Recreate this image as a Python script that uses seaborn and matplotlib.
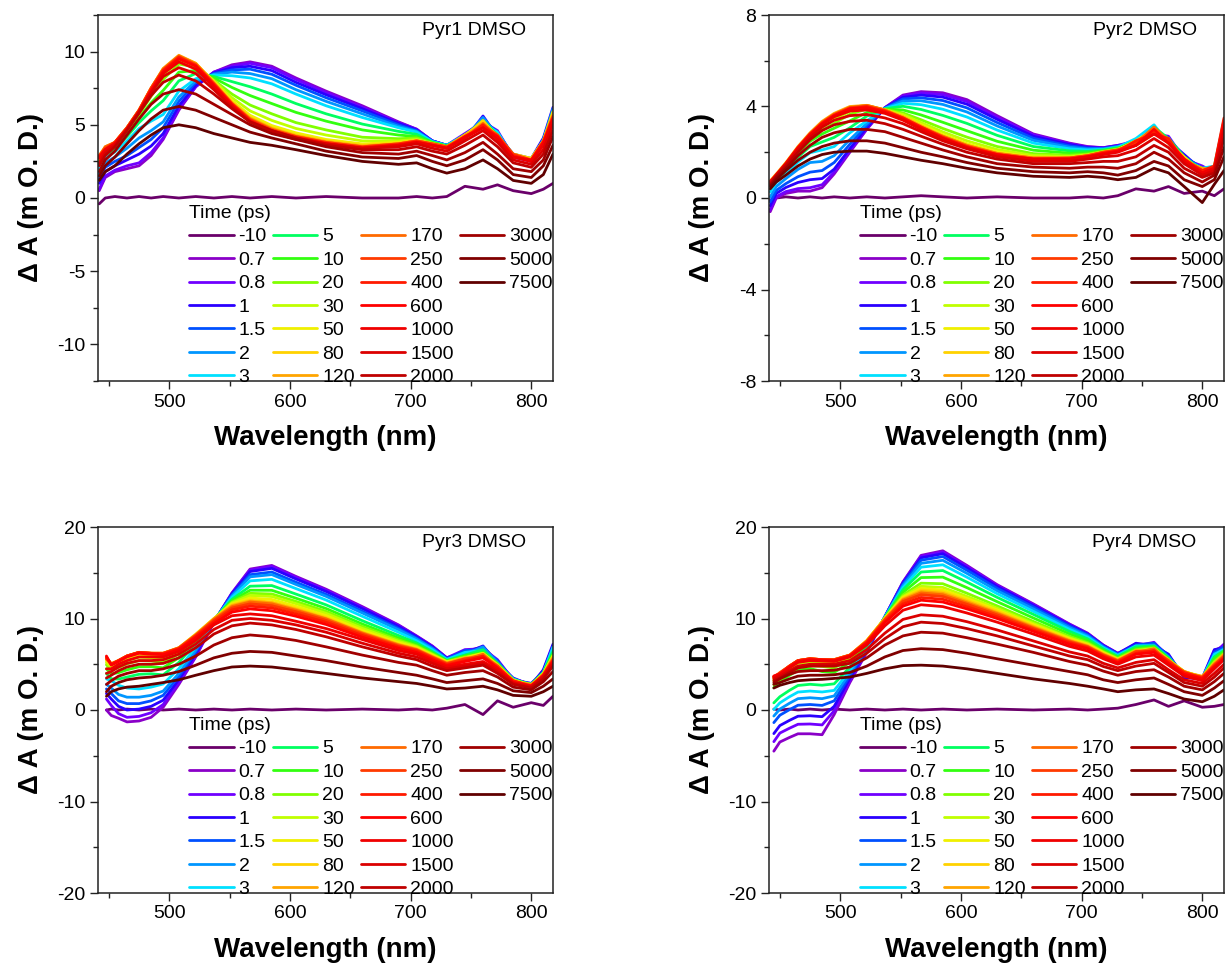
import matplotlib
matplotlib.use("Agg")
import matplotlib.pyplot as plt
from matplotlib.lines import Line2D
from matplotlib.ticker import MultipleLocator
import pandas as pd
import seaborn as sns

TIMES = ["-10", "0.7", "0.8", "1", "1.5", "2", "3", "5", "10", "20", "30", "50",
         "80", "120", "170", "250", "400", "600", "1000", "1500", "2000", "3000", "5000", "7500"]
COLORS = ["#6a006a", "#8a00c8", "#7000ff", "#2a00ff", "#0050ff", "#0096ff", "#00e0ff",
          "#00ff60", "#33ff10", "#80ff00", "#c0ff00", "#f0f000", "#ffd200", "#ffa500",
          "#ff6a00", "#ff3a00", "#ff1a00", "#ff0000", "#f00000", "#dc0000", "#c00000",
          "#a00000", "#800000", "#600000"]

WL_12 = [442, 447, 455, 465, 475, 485, 495, 508, 522, 537, 552, 567, 585, 605, 630, 660, 690, 705, 718, 730, 745, 760, 772, 785, 800, 810, 818]
WL_3 = [448, 452, 458, 465, 475, 485, 495, 508, 522, 537, 552, 567, 585, 605, 630, 660, 690, 705, 718, 730, 745, 760, 772, 785, 800, 810, 818]
WL_4 = [445, 450, 458, 465, 475, 485, 495, 508, 522, 537, 552, 567, 585, 605, 630, 660, 690, 705, 718, 730, 745, 760, 772, 785, 800, 810, 818]

PYR1 = [
    [-0.4, 0.0, 0.1, 0.0, 0.1, 0.0, 0.1, 0.0, 0.1, 0.0, 0.1, 0.0, 0.1, 0.0, 0.1, 0.0, 0.0, 0.1, 0.0, 0.1, 0.8, 0.6, 0.9, 0.5, 0.3, 0.6, 1.0],
    [0.5, 1.4, 1.8, 2.0, 2.2, 2.9, 4.0, 6.0, 7.6, 8.6, 9.1, 9.3, 9.0, 8.2, 7.3, 6.3, 5.2, 4.7, 3.9, 3.6, 4.2, 5.4, 4.4, 2.9, 2.6, 4.0, 6.0],
    [0.6, 1.5, 1.9, 2.2, 2.4, 3.1, 4.1, 6.1, 7.6, 8.6, 9.0, 9.2, 8.9, 8.1, 7.2, 6.2, 5.15, 4.7, 3.9, 3.6, 4.4, 5.2, 4.6, 2.8, 2.5, 3.8, 5.8],
    [1.0, 1.8, 2.2, 2.6, 3.0, 3.55, 4.4, 6.3, 7.7, 8.55, 8.9, 9.0, 8.7, 7.9, 7.05, 6.1, 5.1, 4.65, 3.9, 3.6, 4.0, 5.6, 4.2, 3.0, 2.7, 4.1, 6.2],
    [1.3, 2.1, 2.5, 2.9, 3.45, 4.0, 4.8, 6.6, 7.9, 8.5, 8.75, 8.8, 8.45, 7.7, 6.85, 5.95, 5.0, 4.6, 3.9, 3.6, 4.3, 5.3, 4.5, 2.9, 2.6, 3.9, 5.9],
    [1.65, 2.4, 2.8, 3.4, 4.1, 4.6, 5.2, 6.9, 8.0, 8.45, 8.6, 8.5, 8.15, 7.4, 6.6, 5.75, 4.9, 4.55, 3.85, 3.6, 4.1, 5.5, 4.3, 3.0, 2.5, 4.0, 6.1],
    [2.0, 2.75, 3.15, 3.9, 4.75, 5.25, 5.7, 7.3, 8.15, 8.4, 8.35, 8.2, 7.8, 7.1, 6.3, 5.5, 4.8, 4.5, 3.85, 3.6, 4.3, 5.1, 4.5, 2.8, 2.7, 3.9, 5.8],
    [2.3, 2.95, 3.35, 4.2, 5.15, 5.95, 6.65, 8.0, 8.5, 8.3, 7.95, 7.6, 7.1, 6.45, 5.75, 5.05, 4.55, 4.35, 3.8, 3.55, 4.2, 5.3, 4.3, 2.9, 2.6, 3.9, 5.9],
    [2.5, 3.15, 3.55, 4.45, 5.5, 6.5, 7.35, 8.6, 8.7, 8.2, 7.55, 7.0, 6.45, 5.85, 5.25, 4.65, 4.3, 4.2, 3.8, 3.55, 4.1, 5.2, 4.2, 2.9, 2.6, 3.8, 5.7],
    [2.6, 3.25, 3.65, 4.6, 5.7, 6.95, 8.1, 9.15, 8.95, 8.05, 7.1, 6.35, 5.75, 5.15, 4.65, 4.15, 4.05, 4.1, 3.75, 3.5, 4.3, 5.0, 4.3, 2.9, 2.6, 3.8, 5.7],
    [2.7, 3.3, 3.7, 4.65, 5.8, 7.2, 8.4, 9.4, 9.05, 8.0, 6.85, 5.95, 5.3, 4.75, 4.3, 3.9, 3.9, 4.0, 3.7, 3.5, 4.2, 5.1, 4.2, 2.9, 2.6, 3.8, 5.6],
    [2.75, 3.35, 3.75, 4.75, 5.9, 7.4, 8.65, 9.6, 9.15, 7.95, 6.65, 5.65, 4.95, 4.45, 4.0, 3.7, 3.8, 3.95, 3.7, 3.5, 4.3, 5.2, 4.2, 3.0, 2.7, 3.9, 5.8],
    [2.8, 3.4, 3.8, 4.8, 6.0, 7.5, 8.8, 9.7, 9.2, 7.9, 6.55, 5.5, 4.8, 4.3, 3.9, 3.6, 3.75, 3.95, 3.7, 3.5, 4.2, 5.3, 4.1, 3.0, 2.7, 3.9, 5.9],
    [2.9, 3.5, 3.8, 4.8, 6.0, 7.5, 8.85, 9.75, 9.2, 7.85, 6.5, 5.45, 4.75, 4.25, 3.85, 3.55, 3.7, 3.9, 3.7, 3.5, 4.3, 5.0, 4.3, 2.9, 2.6, 3.8, 5.7],
    [2.8, 3.5, 3.8, 4.8, 6.0, 7.5, 8.8, 9.7, 9.15, 7.85, 6.45, 5.4, 4.7, 4.2, 3.8, 3.5, 3.7, 3.9, 3.7, 3.5, 4.1, 5.1, 4.2, 2.8, 2.6, 3.7, 5.5],
    [2.9, 3.4, 3.8, 4.8, 6.0, 7.5, 8.75, 9.65, 9.1, 7.8, 6.45, 5.35, 4.65, 4.2, 3.8, 3.5, 3.7, 3.9, 3.7, 3.5, 4.2, 4.9, 4.3, 3.0, 2.6, 3.9, 5.6],
    [2.8, 3.3, 3.8, 4.75, 5.95, 7.4, 8.7, 9.6, 9.05, 7.75, 6.4, 5.3, 4.6, 4.15, 3.75, 3.45, 3.65, 3.85, 3.6, 3.4, 4.1, 5.0, 4.1, 2.9, 2.5, 3.7, 5.5],
    [2.8, 3.3, 3.7, 4.7, 5.9, 7.35, 8.6, 9.5, 9.0, 7.7, 6.35, 5.25, 4.55, 4.1, 3.7, 3.4, 3.6, 3.8, 3.6, 3.4, 4.2, 4.8, 4.2, 2.8, 2.6, 3.8, 5.4],
    [2.7, 3.3, 3.7, 4.7, 5.8, 7.2, 8.5, 9.3, 8.8, 7.6, 6.3, 5.2, 4.5, 4.0, 3.7, 3.4, 3.6, 3.8, 3.6, 3.4, 4.1, 4.8, 4.0, 2.8, 2.5, 3.6, 5.4],
    [2.4, 3.1, 3.6, 4.7, 5.9, 7.2, 8.3, 8.9, 8.5, 7.4, 6.2, 5.2, 4.6, 4.1, 3.7, 3.4, 3.5, 3.7, 3.4, 3.2, 3.9, 4.6, 3.8, 2.6, 2.3, 3.3, 5.0],
    [2.2, 2.9, 3.5, 4.6, 5.8, 7.0, 7.9, 8.4, 8.0, 7.1, 6.1, 5.2, 4.6, 4.1, 3.6, 3.3, 3.3, 3.5, 3.2, 3.0, 3.6, 4.3, 3.5, 2.4, 2.1, 3.0, 4.6],
    [1.8, 2.6, 3.2, 4.3, 5.4, 6.4, 7.1, 7.4, 7.1, 6.4, 5.7, 5.0, 4.4, 4.0, 3.5, 3.1, 3.0, 3.2, 2.9, 2.6, 3.1, 3.8, 3.0, 2.0, 1.8, 2.6, 4.2],
    [1.5, 2.2, 2.8, 3.7, 4.6, 5.4, 6.0, 6.25, 6.0, 5.5, 5.0, 4.5, 4.1, 3.7, 3.2, 2.8, 2.7, 2.9, 2.5, 2.2, 2.6, 3.3, 2.6, 1.6, 1.4, 2.2, 3.6],
    [1.2, 1.8, 2.2, 3.0, 3.7, 4.3, 4.8, 5.0, 4.8, 4.4, 4.1, 3.8, 3.6, 3.3, 2.9, 2.5, 2.3, 2.4, 2.0, 1.7, 2.0, 2.6, 2.0, 1.2, 1.0, 1.6, 3.0],
]

PYR2 = [
    [-0.1, 0.0, 0.05, 0.0, 0.05, 0.0, 0.05, 0.0, 0.05, 0.0, 0.05, 0.1, 0.05, 0.0, 0.05, 0.0, 0.0, 0.05, 0.0, 0.1, 0.4, 0.3, 0.5, 0.2, 0.3, 0.1, 0.4],
    [-0.6, 0.0, 0.2, 0.3, 0.3, 0.45, 1.05, 2.0, 3.0, 3.95, 4.5, 4.65, 4.6, 4.3, 3.6, 2.8, 2.4, 2.25, 2.2, 2.3, 2.4, 2.9, 2.6, 1.8, 1.3, 1.2, 3.0],
    [-0.5, 0.06, 0.28, 0.41, 0.45, 0.58, 1.13, 2.06, 3.03, 3.95, 4.46, 4.59, 4.52, 4.22, 3.53, 2.76, 2.37, 2.23, 2.2, 2.3, 2.5, 2.8, 2.7, 1.7, 1.4, 1.1, 3.1],
    [-0.34, 0.2, 0.46, 0.68, 0.8, 0.85, 1.26, 2.16, 3.08, 3.94, 4.4, 4.5, 4.41, 4.1, 3.44, 2.7, 2.34, 2.21, 2.18, 2.28, 2.3, 3.0, 2.5, 1.9, 1.2, 1.3, 2.9],
    [-0.17, 0.33, 0.63, 0.93, 1.13, 1.2, 1.55, 2.35, 3.17, 3.93, 4.33, 4.38, 4.26, 3.94, 3.3, 2.61, 2.28, 2.18, 2.16, 2.26, 2.5, 2.9, 2.6, 1.8, 1.3, 1.2, 3.1],
    [0.05, 0.5, 0.85, 1.25, 1.55, 1.6, 1.85, 2.55, 3.26, 3.92, 4.24, 4.25, 4.09, 3.76, 3.15, 2.52, 2.22, 2.14, 2.15, 2.25, 2.4, 3.0, 2.5, 1.8, 1.2, 1.3, 3.0],
    [0.27, 0.67, 1.07, 1.57, 1.98, 2.1, 2.25, 2.85, 3.37, 3.91, 4.14, 4.08, 3.88, 3.54, 2.97, 2.4, 2.15, 2.1, 2.12, 2.22, 2.6, 3.2, 2.4, 1.7, 1.3, 1.4, 3.4],
    [0.41, 0.78, 1.21, 1.78, 2.25, 2.45, 2.65, 3.07, 3.58, 3.9, 4.01, 3.87, 3.61, 3.26, 2.74, 2.25, 2.06, 2.04, 2.1, 2.2, 2.3, 3.1, 2.6, 1.8, 1.2, 1.3, 3.3],
    [0.53, 0.87, 1.33, 1.95, 2.48, 2.8, 3.05, 3.37, 3.74, 3.88, 3.85, 3.63, 3.31, 2.94, 2.48, 2.09, 1.96, 1.98, 2.06, 2.16, 2.5, 2.8, 2.6, 1.6, 1.3, 1.2, 3.2],
    [0.6, 0.92, 1.4, 2.05, 2.6, 2.97, 3.26, 3.66, 3.89, 3.87, 3.72, 3.42, 3.04, 2.66, 2.25, 1.94, 1.87, 1.92, 2.04, 2.14, 2.4, 2.9, 2.5, 1.7, 1.2, 1.3, 3.2],
    [0.64, 0.95, 1.44, 2.11, 2.68, 3.11, 3.44, 3.79, 3.97, 3.86, 3.65, 3.3, 2.89, 2.5, 2.12, 1.86, 1.82, 1.89, 2.02, 2.12, 2.4, 3.0, 2.4, 1.7, 1.2, 1.3, 3.3],
    [0.67, 0.98, 1.47, 2.16, 2.75, 3.24, 3.57, 3.89, 4.02, 3.85, 3.59, 3.21, 2.78, 2.38, 2.02, 1.79, 1.77, 1.87, 2.0, 2.1, 2.5, 2.9, 2.5, 1.7, 1.2, 1.3, 3.2],
    [0.7, 1.0, 1.5, 2.2, 2.8, 3.3, 3.65, 3.95, 4.05, 3.85, 3.55, 3.15, 2.7, 2.3, 1.95, 1.75, 1.75, 1.85, 2.0, 2.1, 2.5, 3.0, 2.4, 1.8, 1.1, 1.4, 3.3],
    [0.75, 1.05, 1.55, 2.25, 2.85, 3.35, 3.7, 4.0, 4.05, 3.85, 3.55, 3.15, 2.7, 2.3, 1.95, 1.75, 1.75, 1.85, 2.0, 2.1, 2.3, 2.8, 2.6, 1.6, 1.3, 1.2, 3.1],
    [0.7, 1.0, 1.5, 2.2, 2.8, 3.3, 3.65, 3.95, 4.05, 3.85, 3.5, 3.1, 2.7, 2.3, 1.95, 1.75, 1.75, 1.85, 2.0, 2.1, 2.4, 3.1, 2.5, 1.7, 1.2, 1.3, 3.4],
    [0.7, 1.0, 1.5, 2.2, 2.8, 3.3, 3.65, 3.95, 4.0, 3.8, 3.5, 3.1, 2.65, 2.25, 1.9, 1.7, 1.75, 1.85, 2.0, 2.1, 2.4, 2.9, 2.5, 1.7, 1.2, 1.3, 3.2],
    [0.7, 1.0, 1.5, 2.2, 2.8, 3.25, 3.6, 3.9, 4.0, 3.8, 3.5, 3.1, 2.65, 2.25, 1.9, 1.7, 1.7, 1.8, 1.95, 2.05, 2.5, 2.8, 2.6, 1.6, 1.2, 1.4, 3.5],
    [0.7, 1.0, 1.5, 2.2, 2.75, 3.25, 3.6, 3.9, 3.95, 3.75, 3.45, 3.05, 2.6, 2.2, 1.9, 1.7, 1.7, 1.8, 1.95, 2.05, 2.3, 3.0, 2.4, 1.7, 1.1, 1.3, 3.3],
    [0.7, 1.0, 1.5, 2.15, 2.75, 3.2, 3.55, 3.8, 3.85, 3.7, 3.4, 3.0, 2.6, 2.2, 1.85, 1.7, 1.7, 1.8, 1.9, 2.0, 2.3, 2.8, 2.4, 1.6, 1.1, 1.3, 3.1],
    [0.65, 1.0, 1.45, 2.1, 2.65, 3.1, 3.4, 3.6, 3.65, 3.5, 3.25, 2.9, 2.5, 2.15, 1.8, 1.6, 1.6, 1.7, 1.8, 1.85, 2.1, 2.6, 2.2, 1.5, 1.0, 1.2, 2.9],
    [0.6, 0.95, 1.4, 2.0, 2.55, 2.95, 3.2, 3.35, 3.4, 3.25, 3.0, 2.7, 2.35, 2.0, 1.7, 1.5, 1.5, 1.55, 1.6, 1.6, 1.8, 2.3, 2.0, 1.3, 0.9, 1.1, 2.6],
    [0.55, 0.9, 1.3, 1.85, 2.3, 2.65, 2.85, 3.0, 3.0, 2.9, 2.65, 2.4, 2.1, 1.8, 1.5, 1.35, 1.3, 1.35, 1.35, 1.3, 1.5, 2.0, 1.7, 1.1, 0.7, 1.0, 2.2],
    [0.5, 0.8, 1.2, 1.65, 2.0, 2.25, 2.4, 2.5, 2.5, 2.4, 2.2, 2.0, 1.8, 1.55, 1.3, 1.15, 1.1, 1.15, 1.1, 1.0, 1.2, 1.6, 1.4, 0.8, 0.5, 0.8, 1.8],
    [0.4, 0.7, 1.0, 1.4, 1.7, 1.9, 2.0, 2.05, 2.05, 1.95, 1.8, 1.65, 1.5, 1.3, 1.1, 0.95, 0.9, 0.95, 0.9, 0.8, 0.9, 1.3, 1.1, 0.5, -0.2, 0.6, 1.2],
]

PYR3 = [
    [0.0, 0.1, 0.0, 0.1, 0.0, 0.1, 0.0, 0.1, 0.0, 0.1, 0.0, 0.1, 0.0, 0.1, 0.0, 0.1, 0.0, 0.1, 0.0, 0.2, 0.6, -0.5, 1.0, 0.3, 0.8, 0.5, 1.5],
    [0.0, -0.6, -0.9, -1.3, -1.2, -0.8, 0.3, 2.8, 5.8, 9.6, 12.8, 15.4, 15.8, 14.6, 13.2, 11.3, 9.3, 8.1, 7.0, 5.7, 6.4, 6.9, 5.3, 3.4, 2.8, 4.3, 7.0],
    [1.2, 0.5, -0.4, -0.8, -0.7, -0.3, 0.6, 3.0, 5.9, 9.6, 12.76, 15.3, 15.7, 14.5, 13.1, 11.2, 9.24, 8.05, 6.97, 5.7, 6.6, 6.7, 5.5, 3.3, 2.9, 4.2, 6.8],
    [1.8, 1.2, 0.4, 0.0, 0.1, 0.4, 1.07, 3.32, 6.13, 9.63, 12.7, 15.13, 15.48, 14.32, 12.95, 11.08, 9.13, 8.0, 6.9, 5.66, 6.2, 7.0, 5.1, 3.5, 2.7, 4.4, 7.2],
    [2.3, 1.8, 1.0, 0.7, 0.7, 1.0, 1.6, 3.68, 6.35, 9.67, 12.57, 14.79, 15.08, 13.97, 12.64, 10.8, 8.92, 7.85, 6.8, 5.6, 6.5, 6.6, 5.4, 3.2, 2.9, 4.1, 6.6],
    [2.8, 2.4, 1.7, 1.4, 1.4, 1.6, 2.07, 4.0, 6.55, 9.7, 12.47, 14.55, 14.8, 13.72, 12.42, 10.6, 8.77, 7.75, 6.72, 5.57, 6.1, 6.9, 5.2, 3.3, 2.8, 4.0, 6.7],
    [3.4, 3.2, 2.7, 2.4, 2.3, 2.5, 2.84, 4.52, 6.88, 9.75, 12.31, 14.11, 14.28, 13.27, 12.02, 10.24, 8.5, 7.57, 6.58, 5.5, 6.3, 6.5, 5.0, 3.4, 2.7, 4.1, 6.9],
    [4.0, 3.4, 3.38, 3.6, 3.9, 3.96, 3.84, 5.2, 7.3, 9.82, 12.09, 13.53, 13.6, 12.67, 11.49, 9.76, 8.14, 7.33, 6.39, 5.42, 6.0, 6.6, 5.0, 3.3, 2.8, 4.1, 6.4],
    [4.5, 3.95, 4.08, 4.39, 4.73, 4.73, 4.61, 5.72, 7.63, 9.87, 11.92, 13.09, 13.08, 12.22, 11.09, 9.4, 7.87, 7.15, 6.25, 5.36, 5.9, 6.3, 5.1, 3.3, 2.7, 4.0, 6.1],
    [4.94, 4.4, 4.64, 5.04, 5.4, 5.36, 5.2, 6.12, 7.88, 9.91, 11.79, 12.75, 12.68, 11.87, 10.78, 9.12, 7.66, 7.01, 6.14, 5.31, 5.8, 6.2, 5.0, 3.2, 2.8, 3.9, 6.0],
    [5.17, 4.65, 4.96, 5.4, 5.78, 5.71, 5.55, 6.36, 8.03, 9.94, 11.7, 12.51, 12.4, 11.62, 10.56, 8.92, 7.51, 6.91, 6.06, 5.27, 5.7, 6.1, 4.9, 3.3, 2.7, 3.9, 5.9],
    [5.36, 4.85, 5.21, 5.68, 6.08, 5.99, 5.91, 6.6, 8.18, 9.97, 11.59, 12.24, 12.08, 11.34, 10.32, 8.7, 7.35, 6.8, 5.98, 5.23, 5.7, 6.2, 4.9, 3.2, 2.7, 4.0, 5.9],
    [5.5, 5.0, 5.4, 5.9, 6.3, 6.2, 6.2, 6.8, 8.3, 10.0, 11.5, 12.0, 11.8, 11.1, 10.1, 8.5, 7.2, 6.7, 5.9, 5.2, 5.6, 6.0, 4.8, 3.2, 2.7, 3.9, 5.8],
    [5.6, 5.1, 5.4, 5.9, 6.3, 6.2, 6.2, 6.8, 8.2, 9.95, 11.4, 11.9, 11.7, 11.0, 10.0, 8.45, 7.15, 6.65, 5.85, 5.15, 5.7, 5.9, 4.9, 3.1, 2.8, 3.8, 5.7],
    [5.7, 5.0, 5.4, 5.9, 6.3, 6.2, 6.2, 6.8, 8.2, 9.9, 11.3, 11.8, 11.6, 10.9, 9.95, 8.4, 7.1, 6.6, 5.8, 5.1, 5.5, 6.1, 4.7, 3.2, 2.6, 3.9, 5.6],
    [5.6, 5.0, 5.4, 5.9, 6.3, 6.2, 6.2, 6.75, 8.15, 9.8, 11.15, 11.6, 11.4, 10.75, 9.8, 8.3, 7.0, 6.55, 5.75, 5.05, 5.6, 5.8, 4.8, 3.1, 2.7, 3.8, 5.5],
    [5.8, 5.0, 5.4, 5.9, 6.3, 6.2, 6.15, 6.7, 8.05, 9.65, 10.95, 11.35, 11.15, 10.5, 9.6, 8.15, 6.9, 6.45, 5.65, 4.95, 5.4, 5.9, 4.6, 3.2, 2.6, 3.8, 5.4],
    [5.9, 4.9, 5.3, 5.8, 6.2, 6.1, 6.05, 6.6, 7.9, 9.45, 10.7, 11.05, 10.85, 10.25, 9.35, 7.95, 6.75, 6.3, 5.5, 4.85, 5.3, 5.7, 4.6, 3.0, 2.6, 3.7, 5.3],
    [4.5, 4.5, 5.0, 5.4, 5.8, 5.8, 5.8, 6.4, 7.6, 9.3, 10.3, 10.5, 10.3, 9.7, 8.9, 7.7, 6.5, 6.1, 5.3, 4.7, 5.0, 5.3, 4.4, 3.0, 2.6, 3.7, 5.2],
    [4.0, 4.2, 4.7, 5.1, 5.4, 5.4, 5.5, 6.1, 7.2, 8.8, 9.8, 10.0, 9.8, 9.3, 8.5, 7.3, 6.2, 5.8, 5.1, 4.5, 4.8, 5.1, 4.2, 2.9, 2.5, 3.6, 5.0],
    [3.5, 3.8, 4.3, 4.7, 5.0, 5.0, 5.1, 5.7, 6.8, 8.3, 9.2, 9.5, 9.3, 8.8, 8.0, 6.9, 5.9, 5.5, 4.8, 4.3, 4.6, 4.9, 4.0, 2.8, 2.4, 3.4, 4.8],
    [2.8, 3.2, 3.7, 4.0, 4.3, 4.3, 4.5, 5.0, 5.9, 7.1, 7.9, 8.2, 8.0, 7.6, 6.9, 6.0, 5.2, 4.9, 4.3, 3.8, 4.1, 4.3, 3.6, 2.5, 2.2, 3.1, 4.2],
    [2.0, 2.6, 3.0, 3.3, 3.5, 3.6, 3.8, 4.2, 4.9, 5.7, 6.2, 6.4, 6.3, 5.9, 5.4, 4.7, 4.1, 3.8, 3.4, 3.0, 3.2, 3.4, 2.9, 2.1, 1.9, 2.6, 3.4],
    [1.5, 2.0, 2.3, 2.5, 2.6, 2.8, 3.0, 3.3, 3.8, 4.3, 4.7, 4.8, 4.7, 4.4, 4.0, 3.5, 3.1, 2.9, 2.6, 2.3, 2.4, 2.6, 2.2, 1.6, 1.5, 2.0, 2.6],
]

PYR4 = [
    [0.1, 0.0, 0.1, 0.0, 0.1, 0.0, 0.1, 0.0, 0.1, 0.0, 0.1, 0.0, 0.1, 0.0, 0.1, 0.0, 0.1, 0.0, 0.1, 0.2, 0.6, 1.1, 0.4, 1.0, 0.3, 0.4, 0.6],
    [-4.5, -3.5, -3.0, -2.6, -2.6, -2.7, -0.5, 3.0, 6.3, 10.2, 14.0, 16.9, 17.4, 15.8, 13.7, 11.6, 9.4, 8.4, 7.1, 6.2, 7.2, 7.2, 6.0, 3.6, 3.4, 6.5, 7.0],
    [-3.46, -2.52, -1.99, -1.56, -1.53, -1.63, -0.08, 3.21, 6.39, 10.19, 13.95, 16.79, 17.26, 15.69, 13.61, 11.53, 9.35, 8.36, 7.07, 6.18, 7.0, 7.4, 5.8, 3.7, 3.3, 6.2, 7.2],
    [-2.58, -1.7, -1.13, -0.68, -0.63, -0.73, 0.4, 3.45, 6.5, 10.19, 13.87, 16.63, 17.08, 15.53, 13.5, 11.43, 9.28, 8.31, 7.04, 6.15, 7.3, 7.0, 6.1, 3.5, 3.5, 6.6, 6.8],
    [-1.38, -0.57, 0.04, 0.52, 0.6, 0.5, 1.0, 3.75, 6.63, 10.17, 13.75, 16.37, 16.77, 15.27, 13.29, 11.26, 9.16, 8.22, 6.97, 6.1, 7.1, 7.3, 5.9, 3.7, 3.4, 6.3, 6.9],
    [-0.66, 0.1, 0.74, 1.24, 1.34, 1.24, 1.54, 4.02, 6.74, 10.15, 13.59, 16.03, 16.36, 14.93, 13.03, 11.05, 9.01, 8.1, 6.89, 6.04, 7.0, 7.1, 5.8, 3.8, 3.4, 6.0, 6.7],
    [0.06, 0.78, 1.45, 1.96, 2.07, 1.97, 2.14, 4.32, 6.87, 10.13, 13.39, 15.61, 15.87, 14.51, 12.71, 10.78, 8.82, 7.96, 6.79, 5.96, 7.0, 7.0, 5.7, 3.8, 3.5, 6.1, 6.6],
    [0.78, 1.45, 2.15, 2.68, 2.81, 2.71, 2.86, 4.68, 7.03, 10.1, 13.14, 15.08, 15.24, 13.98, 12.31, 10.45, 8.58, 7.78, 6.67, 5.86, 6.9, 7.0, 5.7, 3.9, 3.4, 5.8, 6.5],
    [2.46, 3.03, 3.79, 4.36, 4.53, 4.2, 4.1, 5.22, 7.26, 10.07, 12.85, 14.47, 14.52, 13.37, 11.84, 10.06, 8.31, 7.57, 6.52, 5.75, 6.7, 6.9, 5.6, 4.0, 3.5, 5.6, 6.4],
    [2.78, 3.33, 4.1, 4.68, 4.86, 4.76, 4.6, 5.55, 7.4, 10.04, 12.56, 13.86, 13.8, 12.76, 11.38, 9.68, 8.04, 7.36, 6.38, 5.64, 6.6, 6.8, 5.5, 4.1, 3.6, 5.3, 6.2],
    [3.18, 3.7, 4.49, 5.08, 5.27, 5.17, 5.02, 5.76, 7.5, 10.02, 12.4, 13.52, 13.4, 12.42, 11.12, 9.46, 7.89, 7.24, 6.3, 5.58, 6.5, 6.7, 5.5, 4.2, 3.6, 5.2, 6.1],
    [3.34, 3.85, 4.64, 5.24, 5.44, 5.34, 5.26, 5.88, 7.55, 10.01, 12.29, 13.29, 13.12, 12.19, 10.94, 9.32, 7.78, 7.16, 6.25, 5.54, 6.4, 6.7, 5.4, 4.2, 3.6, 5.1, 6.0],
    [3.5, 4.0, 4.8, 5.4, 5.6, 5.5, 5.5, 6.0, 7.6, 10.0, 12.2, 13.1, 12.9, 12.0, 10.8, 9.2, 7.7, 7.1, 6.2, 5.5, 6.4, 6.6, 5.4, 4.2, 3.6, 5.0, 6.0],
    [3.6, 4.0, 4.8, 5.4, 5.6, 5.5, 5.5, 6.0, 7.55, 9.95, 12.1, 12.95, 12.75, 11.85, 10.65, 9.1, 7.6, 7.0, 6.1, 5.45, 6.5, 6.5, 5.5, 4.1, 3.7, 5.1, 6.1],
    [3.5, 4.1, 4.8, 5.4, 5.6, 5.5, 5.5, 6.0, 7.5, 9.9, 12.0, 12.8, 12.6, 11.7, 10.55, 9.0, 7.55, 6.95, 6.05, 5.4, 6.3, 6.7, 5.3, 4.2, 3.5, 5.0, 5.8],
    [3.6, 4.0, 4.8, 5.4, 5.6, 5.5, 5.5, 6.0, 7.5, 9.85, 11.85, 12.6, 12.4, 11.55, 10.4, 8.9, 7.45, 6.9, 6.0, 5.35, 6.4, 6.4, 5.4, 4.0, 3.6, 4.9, 5.9],
    [3.7, 4.0, 4.8, 5.4, 5.6, 5.5, 5.45, 5.95, 7.4, 9.7, 11.6, 12.3, 12.1, 11.3, 10.2, 8.75, 7.35, 6.8, 5.9, 5.25, 6.2, 6.5, 5.2, 4.1, 3.5, 4.8, 5.7],
    [3.7, 3.9, 4.7, 5.3, 5.5, 5.45, 5.4, 5.9, 7.3, 9.55, 11.35, 12.0, 11.8, 11.05, 10.0, 8.6, 7.2, 6.7, 5.8, 5.15, 6.1, 6.3, 5.1, 3.9, 3.4, 4.7, 5.6],
    [3.6, 3.9, 4.6, 5.2, 5.4, 5.35, 5.3, 5.8, 7.1, 9.2, 10.9, 11.5, 11.3, 10.6, 9.6, 8.3, 6.95, 6.45, 5.6, 5.0, 5.8, 6.0, 4.9, 3.7, 3.2, 4.5, 5.5],
    [3.4, 3.7, 4.3, 4.8, 5.0, 5.0, 5.0, 5.4, 6.6, 8.4, 9.9, 10.4, 10.25, 9.65, 8.75, 7.55, 6.35, 5.9, 5.1, 4.6, 5.2, 5.5, 4.4, 3.3, 2.9, 4.0, 5.0],
    [3.2, 3.5, 4.1, 4.6, 4.8, 4.8, 4.8, 5.1, 6.2, 7.8, 9.1, 9.6, 9.45, 8.9, 8.1, 7.0, 5.9, 5.5, 4.75, 4.3, 4.8, 5.1, 4.1, 3.0, 2.6, 3.6, 4.6],
    [3.0, 3.4, 3.9, 4.2, 4.3, 4.3, 4.35, 4.7, 5.7, 7.1, 8.1, 8.5, 8.4, 7.9, 7.2, 6.3, 5.3, 4.9, 4.25, 3.8, 4.2, 4.4, 3.6, 2.6, 2.2, 3.1, 4.0],
    [2.8, 3.0, 3.4, 3.7, 3.8, 3.8, 3.85, 4.1, 4.8, 5.8, 6.5, 6.7, 6.6, 6.2, 5.6, 4.9, 4.2, 3.85, 3.3, 3.0, 3.3, 3.5, 2.8, 2.0, 1.6, 2.4, 3.2],
    [2.4, 2.7, 3.0, 3.2, 3.3, 3.35, 3.45, 3.6, 4.0, 4.5, 4.85, 4.9, 4.8, 4.5, 4.0, 3.4, 2.9, 2.6, 2.3, 2.0, 2.2, 2.3, 1.8, 1.2, 0.9, 1.5, 2.2],
]

PANEL_NAMES = ["Pyr1 DMSO", "Pyr2 DMSO", "Pyr3 DMSO", "Pyr4 DMSO"]
PANEL_WL = [WL_12, WL_12, WL_3, WL_4]
PANEL_DATA = [PYR1, PYR2, PYR3, PYR4]
Y_LIMITS = [(-12.5, 12.5), (-8, 8), (-20, 20), (-20, 20)]
Y_MAJOR = [5, 4, 10, 10]
Y_MINOR = [2.5, 2, 5, 5]

sns.set_theme(style="ticks")
plt.rcParams["font.family"] = ["Liberation Sans", "DejaVu Sans"]
plt.rcParams["axes.unicode_minus"] = False
plt.rcParams["text.color"] = "black"
plt.rcParams["axes.labelcolor"] = "black"
plt.rcParams["xtick.color"] = "black"
plt.rcParams["ytick.color"] = "black"

W, H = 1225, 967
fig = plt.figure(figsize=(W / 100, H / 100), dpi=100)
boxes = [(98, 15), (769, 15), (98, 527), (769, 527)]
AX_W, AX_H = 455, 366
FS = 14

palette = dict(zip(TIMES, COLORS))

for i in range(4):
    x0, y0 = boxes[i]
    ax = fig.add_axes([x0 / W, 1 - (y0 + AX_H) / H, AX_W / W, AX_H / H])
    wl = PANEL_WL[i]
    rows = []
    for t, vals in zip(TIMES, PANEL_DATA[i]):
        assert len(vals) == len(wl), (i, t, len(vals))
        for w, v in zip(wl, vals):
            rows.append((t, w, v))
    df = pd.DataFrame(rows, columns=["time", "wl", "dA"])
    sns.lineplot(data=df, x="wl", y="dA", hue="time", hue_order=TIMES,
                 palette=palette, sort=False, estimator=None, lw=2.0,
                 legend=False, ax=ax)
    ax.set_xlim(441, 818)
    ax.set_ylim(*Y_LIMITS[i])
    ax.xaxis.set_major_locator(MultipleLocator(100))
    ax.xaxis.set_minor_locator(MultipleLocator(50))
    ax.yaxis.set_major_locator(MultipleLocator(Y_MAJOR[i]))
    ax.yaxis.set_minor_locator(MultipleLocator(Y_MINOR[i]))
    for s in ax.spines.values():
        s.set_visible(True)
        s.set_linewidth(1.1)
        s.set_color("#222222")
    ax.tick_params(which="both", direction="out", top=False, right=False,
                   color="#222222", width=1.0, labelsize=FS, labelcolor="black")
    ax.tick_params(which="major", length=6, pad=3)
    ax.tick_params(which="minor", length=3.5)
    ax.grid(False)
    ax.set_xlabel("Wavelength (nm)", fontsize=20, fontweight="bold", va="center",
                  color="black")
    ax.xaxis.set_label_coords(0.5, -0.155)
    ax.set_ylabel("\u0394 A (m O. D.)", fontsize=20, fontweight="bold", va="center",
                  color="black")
    ax.yaxis.set_label_coords(-0.148, 0.5)
    ax.text(0.94, 0.958, PANEL_NAMES[i], transform=ax.transAxes, ha="right",
            va="center", fontsize=FS, color="black")

    handles = [Line2D([], [], color=c, lw=2) for c in COLORS]
    handles += [Line2D([], [], color="none") for _ in range(4)]
    labels = TIMES + [""] * 4
    leg = ax.legend(handles, labels, title="Time (ps)", ncol=4, loc="lower left",
                    bbox_to_anchor=(0.2, -0.014), frameon=False, fontsize=FS,
                    title_fontsize=FS, handlelength=2.3, handletextpad=0.25,
                    columnspacing=0.3, labelspacing=0.3, borderpad=0,
                    borderaxespad=0, alignment="left")
    for txt in leg.get_texts():
        txt.set_color("black")
    leg.get_title().set_color("black")

fig.savefig("out.png", dpi=100)
